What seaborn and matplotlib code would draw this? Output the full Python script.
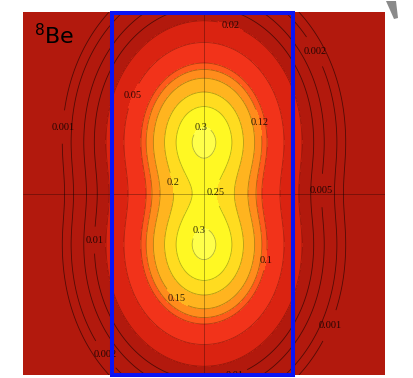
import numpy as np
import matplotlib
matplotlib.use("Agg")
import matplotlib.pyplot as plt
import seaborn as sns
from matplotlib.patches import Rectangle, Polygon

# ---- intrinsic density of 8Be (two alpha clusters), lengths in fm ----
half_extent = 6.0
cluster_z = 1.86            # cluster centres at z = +/- cluster_z
peak_amp = 0.30
width_x = 1.96
width_z_inner = 2.035       # towards the other cluster
width_z_outer = 2.34        # away from the other cluster

# contour levels
fill_levels = [0.02, 0.05, 0.1, 0.12, 0.15, 0.2, 0.25, 0.3]
line_levels = [0.001, 0.002, 0.005, 0.01, 0.02, 0.05, 0.1, 0.12, 0.15, 0.2, 0.25, 0.3]
band_colors = ["#B2190D", "#DA2311", "#F2331A", "#FF5A1C", "#FF8C1C",
               "#FFB41F", "#FFDC20", "#FFF823", "#FFFF4A"]

# contour labels: value and approximate position
label_values = [0.02, 0.002, 0.05, 0.001, 0.3, 0.12, 0.2, 0.25,
                0.005, 0.01, 0.3, 0.1, 0.15, 0.001, 0.002, 0.01]
label_x = [0.90, 3.61, -2.45, -4.71, -0.10, 1.79, -1.06, 0.20,
           3.85, -3.65, -0.10, 1.96, -0.90, 3.91, -3.22, 0.86]
label_y = [5.59, 4.66, 3.27, 2.20, 2.20, 2.34, 0.35, 0.03,
           0.10, -1.54, -1.31, -2.20, -3.46, -4.26, -5.29, -5.92]

# highlighted region
box_x = (-3.05, 2.95)
box_y = (-6.0, 5.97)


def cluster(x, z, zc):
    dz = z - zc
    wz = np.where(dz * np.sign(zc) > 0, width_z_outer, width_z_inner)
    return np.exp(-(x / width_x) ** 2 - (dz / wz) ** 2)


grid = np.linspace(-half_extent, half_extent, 500)
X, Z = np.meshgrid(grid, grid)
rho = peak_amp * (cluster(X, Z, cluster_z) + cluster(X, Z, -cluster_z))

sns.set_theme(style="white")
fig = plt.figure(figsize=(4.14, 3.78), dpi=100)
ax = fig.add_axes([23 / 414, 3 / 378, 362 / 414, 363 / 378])

ax.contourf(X, Z, rho, levels=[0.0] + fill_levels + [1.0], colors=band_colors)

ax.axhline(0, color="black", lw=0.6, alpha=0.35)
ax.axvline(0, color="black", lw=0.6, alpha=0.35)

# one line set per level so each label attaches to its own contour
for lev in line_levels:
    inner = lev >= 0.02
    cs = ax.contour(X, Z, rho, levels=[lev], colors="black",
                    linewidths=0.6, alpha=0.3 if inner else 0.55)
    spots = [(x, y) for v, x, y in zip(label_values, label_x, label_y) if v == lev]
    if spots:
        ax.clabel(cs, manual=spots, inline=True, inline_spacing=2,
                  fontsize=7.5, colors="black", fmt=lambda val: f"{val:g}")

for t in ax.texts:
    t.set_rotation(0)
    t.set_fontfamily("Liberation Serif")
    t.set_alpha(0.8)

ax.add_patch(Rectangle((box_x[0], box_y[0]), box_x[1] - box_x[0],
                       box_y[1] - box_y[0], fill=False, edgecolor="#0A14F5",
                       linewidth=2.9, clip_on=False, zorder=5))

ax.text(-5.62, 4.92, r"$^{8}$Be", fontsize=16, color="black",
        va="baseline", ha="left", zorder=6)

ax.set_xlim(-half_extent, half_extent)
ax.set_ylim(-half_extent, half_extent)
ax.set_axis_off()

fig.add_artist(Polygon([(386 / 414, 1 - 1 / 378), (396 / 414, 1 - 1 / 378),
                        (398 / 414, 1 - 18 / 378), (394 / 414, 1 - 19 / 378)],
                       closed=True, facecolor="#8A8A8A", edgecolor="none",
                       transform=fig.transFigure))

fig.savefig("out.png", dpi=100, facecolor="white")
